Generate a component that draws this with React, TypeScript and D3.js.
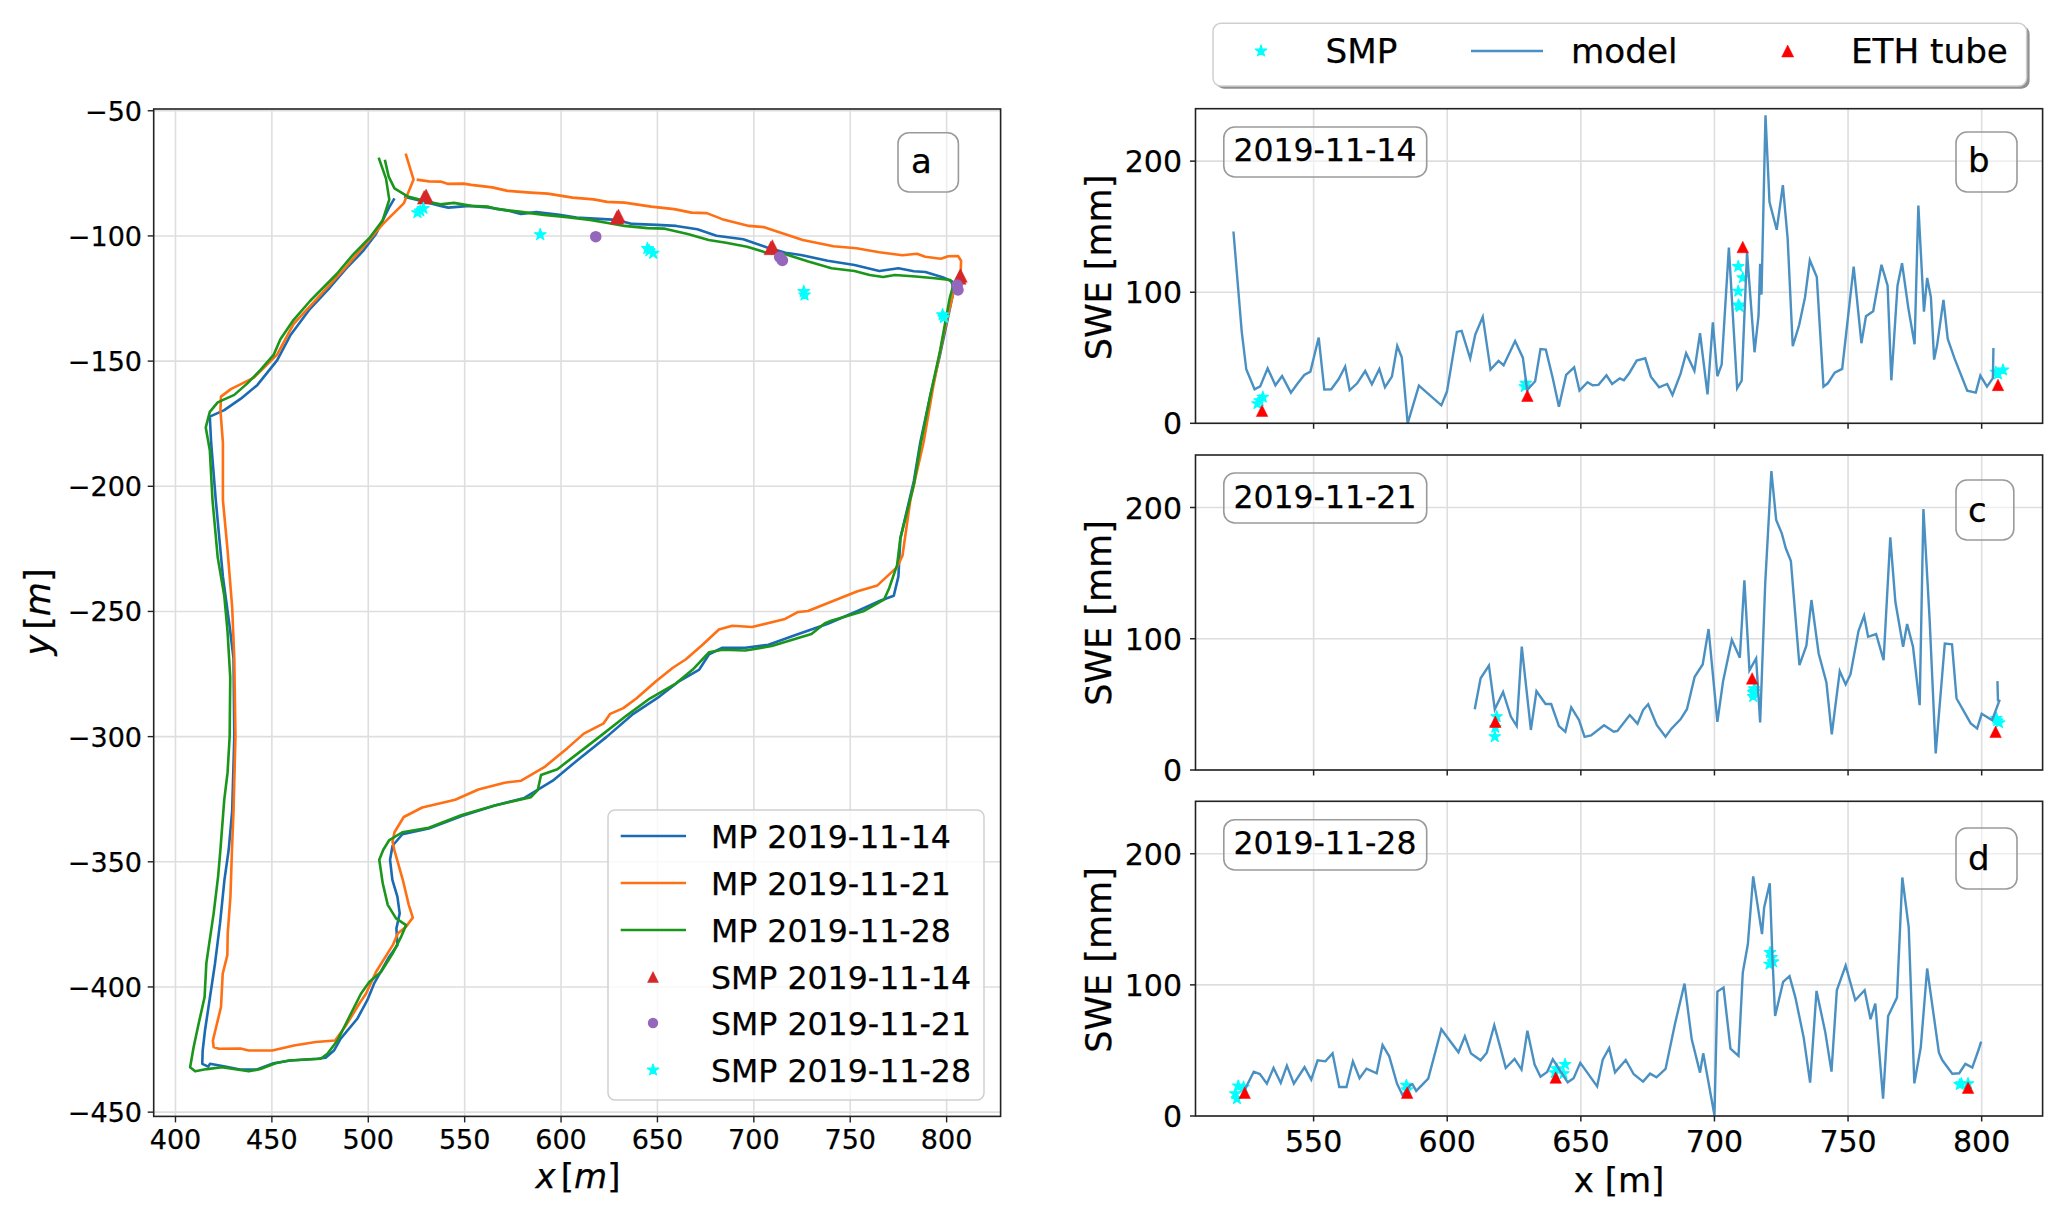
import React from "react";
import * as d3 from "d3";

type P = [number, number];

const mp14: P[] = [[513.6,-85],[510.9,-88.5],[504,-99.2],[497.2,-106.1],[488.6,-113],[480.1,-120.6],[469.8,-129.1],[459.5,-139.8],[452.7,-149.7],[442.4,-159.6],[433.9,-165],[425.3,-169.6],[417.8,-172.2],[418.5,-182.6],[420.9,-205.5],[424.6,-236.1],[428.1,-256],[430.1,-268.7],[430.5,-300],[429.4,-329.8],[427.6,-345.2],[425.4,-357.2],[423.1,-374.6],[420.5,-390.6],[417.9,-404],[415.3,-417.4],[414.1,-425.4],[413.9,-430.7],[417,-431.8],[417.9,-430.7],[425.7,-431.8],[433.5,-433],[442.2,-433],[450.9,-430.5],[459.6,-429.4],[473.5,-428.7],[477.9,-428.3],[482.2,-425.4],[485.6,-420.7],[494.3,-412.7],[499.5,-405.3],[503,-398.7],[510.8,-388],[515.1,-383.3],[514.6,-376.6],[516.3,-370.6],[515.1,-363.9],[512.5,-357.2],[511.3,-349.2],[512.6,-343.6],[517.7,-339],[531.4,-336.7],[548.5,-331.7],[565.6,-327.5],[581,-324.5],[595.7,-317.6],[610.1,-308.4],[623.8,-300],[637.5,-290.9],[651.2,-283.9],[661.4,-277.8],[671.7,-273.2],[676.8,-267.1],[683.7,-264.5],[695.6,-264.5],[707.6,-263.3],[721.3,-259.5],[738.4,-254.9],[753.8,-249.8],[765.8,-245.6],[772.6,-243.7],[775,-236],[776,-220.8],[783,-197.9],[786.3,-182.6],[791.4,-164.2],[796.6,-147.4],[803.4,-122.9],[802.9,-118.2],[797.9,-116.5],[789,-114.4],[783,-114.1],[775,-112.9],[765.1,-114],[752.2,-111.6],[738.3,-109.9],[724.4,-107.6],[716.4,-106.7],[706.5,-104.5],[694.5,-101.3],[680.6,-99.9],[670.7,-97.3],[659.7,-96],[649.8,-95.6],[636.9,-95.2],[628.9,-93.6],[622,-93.3],[608,-92.7],[599.1,-91.6],[587.2,-90.5],[579.2,-91.2],[573.3,-90],[562.3,-88.6],[552.4,-88],[541.5,-88.7],[537.5,-88],[532.5,-87],[525.5,-85.6],[518.6,-84.3]];

const mp21: P[] = [[519.4,-67.1],[521.8,-73.2],[523.5,-77.5],[518.4,-87],[507.4,-95.4],[500.6,-101.5],[486.9,-113.8],[473.2,-125.2],[461.2,-135.2],[452.7,-147.4],[440.7,-156.6],[428.7,-161.2],[423.6,-164.2],[423.3,-169.6],[424.6,-182.6],[424.6,-205.5],[427,-225.4],[429.4,-248.3],[430.5,-268.7],[431.1,-300],[430.1,-329.8],[429.3,-345.2],[428.5,-363.9],[427.1,-378.6],[426.9,-387.3],[424.5,-394.7],[423.6,-408],[419.4,-421.4],[419.8,-424],[422.4,-424.7],[433.7,-424.6],[438,-425.4],[450.2,-425.4],[461.5,-423.4],[472.7,-422],[482.8,-421.4],[488.4,-415.4],[495.3,-406.7],[498.8,-402.7],[504,-394],[512.7,-383.3],[515.3,-378.6],[519.6,-375.9],[523.1,-372.3],[521,-367.2],[517.9,-357.2],[513.5,-345.2],[512.6,-342],[513.6,-338.2],[518.4,-332.1],[528,-328.3],[545.1,-325.2],[557.1,-321.1],[570.7,-318.4],[579.3,-317.6],[591.3,-312.2],[603.3,-304.6],[611.8,-298.8],[622.1,-294.7],[625.5,-290.9],[632.3,-288.6],[639.2,-284.7],[649.4,-277.8],[658,-272.5],[664.8,-269.1],[673.4,-263.3],[681.9,-257.2],[688.8,-255.7],[699.1,-256.2],[716.2,-253],[723,-250.2],[728.1,-249.8],[745.3,-244.5],[753.8,-241.9],[764.1,-239.6],[774.3,-232.3],[777.1,-227.7],[781.2,-205.5],[788,-182.6],[793.2,-159.6],[798.3,-139.8],[803.4,-122.9],[806.2,-116.8],[807.3,-114.2],[807.5,-109.9],[805.9,-108],[800.9,-108.1],[796.9,-109.1],[788.9,-108.3],[784.6,-107.1],[777,-107.7],[765.1,-106.5],[753.2,-104.9],[741.3,-104.1],[725.4,-101.6],[712.4,-98.3],[705.4,-96.5],[697.5,-96],[683.6,-93.3],[675.6,-90.9],[667.7,-90.7],[658.7,-89.3],[646.8,-88.3],[632.9,-86.7],[623.9,-86.4],[616.9,-85.4],[606,-84.7],[593.1,-83.1],[584.2,-82.7],[572.3,-82],[564.3,-80.6],[553.4,-79.6],[549.4,-79.1],[541.1,-79.2],[537.5,-78.3],[531.5,-78.2],[525.1,-77.5]];

const mp28: P[] = [[505.4,-68.7],[509.2,-77.1],[510.9,-85.5],[507.4,-93.9],[500.6,-100.8],[492,-107.6],[483.5,-115.3],[469.8,-126],[461.2,-133.6],[454.4,-141.3],[451,-147.4],[444.1,-153.5],[437.3,-158.9],[430.5,-163.5],[421.9,-166.5],[417.8,-170.3],[415.7,-176.5],[417.8,-185.6],[419.2,-205.5],[421.9,-228.4],[425.3,-243.7],[427,-258],[428.4,-276.3],[428.1,-300],[427,-314.5],[425.3,-325.2],[423.3,-345.2],[422.1,-355.9],[419.8,-370.6],[417.5,-382.6],[416,-390.6],[415.1,-404],[412,-414.7],[409.4,-424.1],[407.6,-432.1],[410.2,-433.7],[416.3,-432.8],[424.1,-432.1],[430.2,-432.8],[438,-433.7],[444.1,-432.8],[451.9,-430.5],[458.9,-429.4],[475.3,-428.7],[478.8,-426.7],[484,-421.4],[490.1,-412],[496.2,-402.7],[500.5,-398],[506.6,-394],[512.7,-386.6],[517,-380],[519.6,-375.3],[514.4,-372.6],[510.1,-367.2],[507.5,-358.6],[505.7,-349.2],[507.8,-345.2],[510.9,-341.3],[517.7,-338.2],[531.4,-336.4],[548.5,-331.3],[565.6,-327.5],[584.4,-324.2],[587.9,-321.4],[589.6,-315.3],[598.1,-313],[608.4,-306.9],[618.7,-300.8],[634,-291.6],[646,-284.8],[659.7,-278.7],[668.3,-273.2],[676.8,-266.3],[683.7,-265.3],[695.6,-265.6],[709.3,-263.8],[721.3,-261],[729.9,-259],[736.7,-254.8],[740.1,-253.7],[757.2,-249.8],[767.5,-245.3],[770.2,-240.7],[774.3,-231.5],[776,-220.8],[783,-199.4],[786.3,-184.1],[791.4,-164.2],[796.6,-145.9],[801.7,-124.5],[803.4,-119.9],[801.9,-117.6],[793.9,-116.9],[784,-116.2],[773.1,-115.6],[767.1,-116.4],[760.1,-115.6],[752.2,-114],[740.3,-112.9],[728.3,-110.2],[716.4,-107.3],[706.5,-106.7],[696.5,-104.3],[685.6,-102.7],[676.6,-101.6],[665.7,-99.2],[653.8,-97.1],[644.8,-96.9],[632.9,-96],[625,-94.9],[615,-93.6],[603.1,-92.5],[591.2,-91.6],[578.2,-90.3],[567.3,-89.3],[562.3,-88.3],[553.4,-88],[544.4,-86.8],[537.5,-87.4],[530.5,-86.3],[520.6,-84.3],[513.6,-81],[510.6,-76.3],[508.6,-69.6]];

const smpA14: P[] = [[529,-84.6],[530,-84],[629,-92.6],[629.8,-92],[708.8,-104.8],[709.6,-104.2],[806.6,-116.6],[807.2,-115.8]];
const smpA21: P[] = [[618,-100.3],[713.4,-108.5],[714.8,-109.8],[805.5,-119.6],[805.9,-121.6]];
const smpA28: P[] = [[525.5,-90.7],[527,-90],[528.6,-89],[589.2,-99.5],[644.8,-105],[645.8,-105.9],[647.8,-106.9],[725.9,-122.2],[726.3,-123.6],[797.9,-131.5],[798.6,-132.6]];

const modelB: P[] = [[520,146.3],[523.1,70],[524.8,41.2],[527.9,26],[530,28.2],[532.8,42],[535.7,29],[538.2,36.1],[541.5,23.4],[543.8,29.8],[546.5,36.9],[548.8,39.4],[551.9,65.4],[554,25.7],[556.6,26],[559.4,33.8],[561.8,43.3],[563.5,25.2],[566.3,30.5],[569.3,39.9],[571.8,29.8],[574.6,41.5],[576.7,27.5],[579.3,35.6],[581.3,59],[583,50.4],[585.2,0],[589.4,28.8],[597.8,13.7],[599.9,24.2],[603.6,69.7],[605.4,70.5],[608.6,49.4],[610.5,67.7],[613.3,81.2],[616.2,41],[619.2,47.6],[621.1,44.3],[625.4,62.8],[628.3,50.1],[629.9,25.4],[632.9,32.1],[634.9,56.7],[636.9,56.2],[639.5,34.4],[641.8,12.7],[644.5,36.9],[647.5,42.7],[649.5,24.9],[652.5,31.3],[654.4,29],[656.6,29.3],[659.6,36.6],[661.7,30],[664.6,34.3],[666.1,32.8],[668.1,38.2],[670.9,47.8],[674.1,49.6],[676.2,35.6],[679.3,27.5],[682.3,30],[684.3,21.6],[687.3,37.7],[689.4,53.4],[692.5,40],[694.6,68.7],[697.4,22.1],[699.4,77.1],[701.1,35.9],[702.7,44.8],[705.4,134.1],[708.5,26.7],[710.2,32.6],[712.2,130.5],[715,54.2],[716.5,82.2],[717.1,121.6],[717.6,98.2],[719.1,234.9],[720.6,168.7],[723.3,147.6],[725.6,181.7],[727.4,140.7],[729.3,58.8],[731.7,75],[733.9,96.2],[735.7,124.4],[738.3,111.5],[740.8,28],[742.4,30.5],[745,38.7],[747.8,41.5],[752.1,119.6],[755,61.1],[756.7,81.7],[759.4,85.5],[762.5,120.9],[764.8,105],[766.2,32.8],[768.5,105],[770.2,122.1],[772.6,87.3],[774.9,60.3],[776.3,166.2],[778.4,85.2],[779.6,110.9],[781,96.2],[782.2,48.6],[783.3,59.3],[785.7,94.1],[787.3,64.4],[789.9,49.1],[794.6,24.9],[797.8,23.4],[799.5,36.4],[802,28],[804.2,34.4],[804.4,57.5]];
const smpB: P[] = [[529,15],[529.8,17.3],[531,20],[629.4,30.5],[629,28],[708.9,119.6],[710.6,111],[708.9,100.8],[709,90.3],[709.4,89],[806.1,37.7],[808,40.7],[805.3,39]];
const ethB: P[] = [[530.7,9.6],[630,21],[710.6,134.5],[806.1,29.3]];

const modelC: P[] = [[610.3,46.3],[612.5,69.9],[615.6,79.5],[617.8,46.3],[620.9,59.5],[623.8,40.7],[626,33.5],[627.9,94],[631.3,30.5],[633.4,60],[636.8,50.3],[638.9,50.3],[641.8,33.5],[644.2,29.2],[646.4,47.8],[649.3,38.1],[651.4,25.2],[653.8,26.4],[658.7,34.1],[662.3,29.2],[663.7,29.7],[668.3,41.9],[671.2,35.3],[673.3,45.7],[675.2,50.1],[678.4,34.3],[681.7,25.4],[683.9,31.5],[687.3,38.6],[689.7,46.3],[692.6,71],[695.6,80.4],[697.8,107.4],[701.1,36.7],[703.2,67.2],[706.5,99.2],[709.5,85.5],[711.2,144.5],[713.1,75.9],[715.6,85],[717.1,36.2],[719,142.2],[721.3,227.8],[723.1,190.5],[725.2,180.3],[726.7,168.9],[728.6,159.2],[731.8,79.9],[734.4,94.7],[736.3,129.5],[739,88.8],[741.9,66.7],[743.9,27.1],[746.9,75.3],[749.1,65.2],[750.9,72.8],[753.9,105.8],[756,117.5],[757.5,101.5],[760.5,103.6],[763.3,83.7],[765.8,177.3],[767.7,128.2],[770.6,93.9],[772.1,111.2],[774.3,93.9],[776.8,49.4],[778.2,198.9],[780.5,115.5],[782.8,12.6],[786.2,96.4],[788.9,95.7],[790.6,54.5],[795.9,35.5],[798.3,31.6],[800,42.8],[803.9,38],[806.6,52.7],[806.1,53],[805.9,67.7]];
const smpC: P[] = [[618.5,40.7],[618,32.5],[617.8,25.4],[714.5,59],[714.9,62],[714.5,56],[715,60],[805.5,39.3],[806.5,36],[805.8,37.5]];
const ethC: P[] = [[618,36.8],[714.1,69.8],[805.2,29.1]];

const modelD: P[] = [[523.8,18.3],[527.6,33.8],[529.9,32],[532.5,24.7],[535,36.6],[537.7,25.2],[540,38.4],[542.6,24.7],[546.6,37.2],[549.1,27.7],[551.5,42.5],[554.4,41.7],[557.1,47.8],[559.6,22.1],[562.3,22.1],[564.7,41.7],[567.2,28.8],[569.8,36.1],[573.6,32.6],[575.8,54.2],[578.3,45.5],[581.2,24.7],[583.3,15.8],[586.2,23.4],[587,24.2],[588.4,19.1],[592.9,28.5],[597.8,66.2],[604.2,48.6],[606.6,60.8],[608.9,47.6],[612.5,42.5],[614.8,48.3],[617.6,69.2],[619.3,56.5],[621.9,36.6],[625.2,43.5],[627.8,35.4],[630,65.1],[632.7,39.2],[634.9,30],[637.4,33.6],[639.5,43.3],[645.1,25.7],[647.3,28.8],[649.8,40.5],[656.1,22.6],[658.2,43],[660.6,51.9],[662.8,33.3],[666.8,42.7],[669.8,31.8],[673.3,26.2],[675.9,32.3],[678.3,29.5],[681.7,35.9],[685.2,70],[688.8,101],[691.5,58.5],[694.6,33.1],[695.8,47.8],[700,0.5],[701.1,94.9],[703.4,98],[706,51.4],[709,45.8],[710.6,109.4],[712.5,131],[714.5,182.7],[717.8,138.7],[718.6,159],[720.7,177.4],[721.7,120.9],[722.7,76.3],[725.7,102.3],[728.1,106.6],[730.3,90.3],[733.4,59.8],[735.8,25.4],[738.2,95.4],[741.5,63.6],[743.8,33.8],[745.8,95.9],[749.1,114.8],[752.7,88.3],[756.2,95.9],[758.4,73.8],[760.2,85.8],[763.1,13.2],[765,76.3],[768.3,90.3],[770.3,181.9],[772.7,143.8],[774.8,24.9],[777.2,52.2],[779.6,112.5],[784,48.3],[785.3,42.5],[789,32.3],[791.6,32.6],[793.9,39.7],[796.5,36.9],[798.9,50.9],[799.8,56.7]];
const smpD: P[] = [[521.8,22.9],[520.7,17],[521.3,13.2],[523.8,22],[584.7,23.4],[585,20],[644.1,39.4],[641,36],[643.5,32.3],[640.3,33],[720.8,124.7],[721.4,120.9],[721.9,117.6],[720.6,115.8],[792.4,24.7],[794.9,24.7],[791.8,24]];
const ethD: P[] = [[524.2,17.8],[585,17.8],[640.6,29.3],[794.9,21.6]];

const mapXTicks = [400, 450, 500, 550, 600, 650, 700, 750, 800];
const mapYTicks = [-50, -100, -150, -200, -250, -300, -350, -400, -450];
const sweXTicks = [550, 600, 650, 700, 750, 800];
const sweYTicks = [0, 100, 200];

const mapLegend = ["MP 2019-11-14", "MP 2019-11-21", "MP 2019-11-28", "SMP 2019-11-14", "SMP 2019-11-21", "SMP 2019-11-28"];
const topLegend = ["SMP", "model", "ETH tube"];

const FONT = "'DejaVu Sans'";
const BLUE = "#1a6bb3";
const ORANGE = "#ff6f13";
const GREEN = "#1a961a";
const MODEL = "#4a90c2";
const GRID = "#dedede";

const mapX = d3.scaleLinear().domain([388.7, 828]).range([153.7, 1000.6]);
const mapY = d3.scaleLinear().domain([-49.3, -451.7]).range([109, 1116.4]);
const sweX = d3.scaleLinear().domain([505.8, 822.8]).range([1195.5, 2042.6]);

// matplotlib's "^": as tall as it is wide, anchored at mid height; size is the side in px.
const triangleUp = {
  draw(ctx: any, size: number) {
    const h = size / 2;
    ctx.moveTo(0, -h);
    ctx.lineTo(h, h);
    ctx.lineTo(-h, h);
    ctx.closePath();
  },
};
const triPath = (side: number) => d3.symbol().type(triangleUp as any).size(side)() as string;
const starPath = (size: number) => d3.symbol().type(d3.symbolStar).size(size)() as string;
const circlePath = (size: number) => d3.symbol().type(d3.symbolCircle).size(size)() as string;

function Tri({ x, y, side, fill }: { x: number; y: number; side: number; fill: string }) {
  return <path d={triPath(side)} transform={`translate(${x},${y})`} fill={fill} stroke={fill} strokeWidth={0.5} />;
}
function Star({ x, y, size }: { x: number; y: number; size: number }) {
  return <path d={starPath(size)} transform={`translate(${x},${y})`} fill="#00ffff" stroke="#00ffff" strokeWidth={1.2} strokeLinejoin="round" />;
}

function Box({ x0, x1, y0, y1 }: { x0: number; x1: number; y0: number; y1: number }) {
  return <rect x={x0} y={y0} width={x1 - x0} height={y1 - y0} rx={11} fill="#fff" fillOpacity={0.5} stroke="#9a9a9a" strokeWidth={1.6} />;
}

function SwePanel({ top, bottom, model, smp, eth, date, letter, letterBox, dateBox, dateBase, letterBase, labels, labelY }: {
  top: number; bottom: number; model: P[]; smp: P[]; eth: P[]; date: string; letter: string;
  letterBox: [number, number, number, number]; dateBox: [number, number]; dateBase: number; letterBase: number; labels: boolean; labelY: number;
}) {
  const y = d3.scaleLinear().domain([0, 240]).range([bottom, top]);
  const line = d3.line<P>().x((d) => sweX(d[0])).y((d) => y(d[1]));
  const [l, r] = sweX.range();
  return (
    <g>
      {sweXTicks.map((t) => <line key={t} x1={sweX(t)} x2={sweX(t)} y1={top} y2={bottom} stroke={GRID} strokeWidth={1.6} />)}
      {sweYTicks.map((t) => <line key={t} x1={l} x2={r} y1={y(t)} y2={y(t)} stroke={GRID} strokeWidth={1.6} />)}
      {smp.map((p, i) => <Star key={i} x={sweX(p[0])} y={y(p[1])} size={40} />)}
      <path d={line(model) as string} fill="none" stroke={MODEL} strokeWidth={2.4} strokeLinejoin="miter" />
      {eth.map((p, i) => <Tri key={i} x={sweX(p[0])} y={y(p[1])} side={11.5} fill="#ff0000" />)}
      <rect x={l} y={top} width={r - l} height={bottom - top} fill="none" stroke="#222" strokeWidth={1.6} />
      {sweXTicks.map((t) => <line key={t} x1={sweX(t)} x2={sweX(t)} y1={bottom} y2={bottom + 5.5} stroke="#222" strokeWidth={1.5} />)}
      {sweYTicks.map((t) => <line key={t} x1={l - 5.5} x2={l} y1={y(t)} y2={y(t)} stroke="#222" strokeWidth={1.5} />)}
      {sweYTicks.map((t) => <text key={t} x={1182} y={y(t) + 11} textAnchor="end" fontSize={30}>{t}</text>)}
      {labels && sweXTicks.map((t) => <text key={t} x={sweX(t)} y={1152} textAnchor="middle" fontSize={30}>{t}</text>)}
      <text transform={`translate(1111,${labelY}) rotate(-90)`} textAnchor="middle" fontSize={35}>SWE [mm]</text>
      <Box x0={1223.8} x1={1426.7} y0={dateBox[0]} y1={dateBox[1]} />
      <text x={1233.4} y={dateBase} fontSize={31.5}>{date}</text>
      <Box x0={letterBox[0]} x1={letterBox[1]} y0={letterBox[2]} y1={letterBox[3]} />
      <text x={1968} y={letterBase} fontSize={34}>{letter}</text>
    </g>
  );
}

export default function App() {
  const mapLine = d3.line<P>().x((d) => mapX(d[0])).y((d) => mapY(d[1]));
  const [ml, mr] = mapX.range();
  const [mt, mb] = mapY.range();
  const rows = [836, 883, 930, 977, 1023, 1070];
  const lineColors = [BLUE, ORANGE, GREEN];
  return (
    <svg width={2067} height={1220} viewBox="0 0 2067 1220" style={{ position: "absolute", left: 0, top: 0, display: "block", background: "#fff" }} fontFamily={FONT} fill="#000">
      <style>{"text{stroke:#000;stroke-width:.25px}"}</style>
      {/* panel a */}
      {mapXTicks.map((t) => <line key={t} x1={mapX(t)} x2={mapX(t)} y1={mt} y2={mb} stroke={GRID} strokeWidth={1.6} />)}
      {mapYTicks.map((t) => <line key={t} x1={ml} x2={mr} y1={mapY(t)} y2={mapY(t)} stroke={GRID} strokeWidth={1.6} />)}
      {[mp14, mp21, mp28].map((d, i) => <path key={i} d={mapLine(d) as string} fill="none" stroke={lineColors[i]} strokeWidth={2.6} strokeLinejoin="round" />)}
      {smpA14.map((p, i) => <Tri key={i} x={mapX(p[0])} y={mapY(p[1])} side={13.5} fill="#d62728" />)}
      {smpA21.map((p, i) => <path key={i} d={circlePath(105)} transform={`translate(${mapX(p[0])},${mapY(p[1])})`} fill="#9467bd" />)}
      {smpA28.map((p, i) => <Star key={i} x={mapX(p[0])} y={mapY(p[1])} size={42} />)}
      <rect x={ml} y={mt} width={mr - ml} height={mb - mt} fill="none" stroke="#222" strokeWidth={1.6} />
      {mapXTicks.map((t) => <line key={t} x1={mapX(t)} x2={mapX(t)} y1={mb} y2={mb + 6} stroke="#222" strokeWidth={1.4} />)}
      {mapYTicks.map((t) => <line key={t} x1={ml - 6} x2={ml} y1={mapY(t)} y2={mapY(t)} stroke="#222" strokeWidth={1.4} />)}
      {mapXTicks.map((t) => <text key={t} x={mapX(t)} y={1149} textAnchor="middle" fontSize={27}>{t}</text>)}
      {mapYTicks.map((t) => <text key={t} x={142} y={mapY(t) + 10} textAnchor="end" fontSize={27}>{`\u2212${Math.abs(t)}`}</text>)}
      <text x={578} y={1188} textAnchor="middle" fontSize={34}><tspan fontStyle="oblique">x</tspan><tspan dx={5}>[</tspan><tspan fontStyle="oblique">m</tspan><tspan>]</tspan></text>
      <text transform="translate(50,612) rotate(-90)" textAnchor="middle" fontSize={35}><tspan fontStyle="oblique">y</tspan><tspan dx={5}>[</tspan><tspan fontStyle="oblique">m</tspan><tspan>]</tspan></text>
      <Box x0={898} x1={958.4} y0={132.7} y1={192} />
      <text x={911} y={173} fontSize={34}>a</text>
      {/* legend a */}
      <rect x={608} y={810} width={376} height={290} rx={7} fill="#fff" fillOpacity={0.8} stroke="#cfcfcf" strokeWidth={1.5} />
      {mapLegend.map((t, i) => <text key={t} x={711} y={rows[i] + 11.5} fontSize={31.6}>{t}</text>)}
      {lineColors.map((c, i) => <line key={c} x1={620.7} x2={686} y1={rows[i]} y2={rows[i]} stroke={c} strokeWidth={2.6} />)}
      <Tri x={653} y={977} side={11} fill="#d62728" />
      <path d={circlePath(85)} transform="translate(653,1023)" fill="#9467bd" />
      <Star x={653} y={1070} size={40} />

      {/* top legend */}
      <rect x={1216} y={26} width={813.6} height={62.7} rx={8} fill="#8f8f8f" />
      <rect x={1213} y={23.3} width={813.6} height={62.7} rx={8} fill="#fff" stroke="#cfcfcf" strokeWidth={1.5} />
      <Star x={1261} y={51} size={40} />
      <text x={1325.5} y={63} fontSize={34.2}>{topLegend[0]}</text>
      <line x1={1471} x2={1543} y1={51} y2={51} stroke={MODEL} strokeWidth={2.4} />
      <text x={1571} y={63} fontSize={34.2}>{topLegend[1]}</text>
      <Tri x={1787.7} y={51} side={12} fill="#ff0000" />
      <text x={1851} y={63} fontSize={34.2}>{topLegend[2]}</text>

      <SwePanel top={108.7} bottom={423.3} model={modelB} smp={smpB} eth={ethB} date="2019-11-14" letter="b" letterBox={[1956, 2017, 132, 192]} dateBox={[127, 177]} dateBase={161} letterBase={172} labels={false} labelY={267.5} />
      <SwePanel top={455} bottom={770} model={modelC} smp={smpC} eth={ethC} date="2019-11-21" letter="c" letterBox={[1956, 2013.8, 480, 540]} dateBox={[473, 523]} dateBase={507.7} letterBase={521.7} labels={false} labelY={613} />
      <SwePanel top={801.3} bottom={1116} model={modelD} smp={smpD} eth={ethD} date="2019-11-28" letter="d" letterBox={[1956, 2017, 828, 889]} dateBox={[819.7, 870]} dateBase={854} letterBase={870} labels={true} labelY={960} />
      <text x={1619} y={1191.7} textAnchor="middle" fontSize={34}>x [m]</text>
    </svg>
  );
}
